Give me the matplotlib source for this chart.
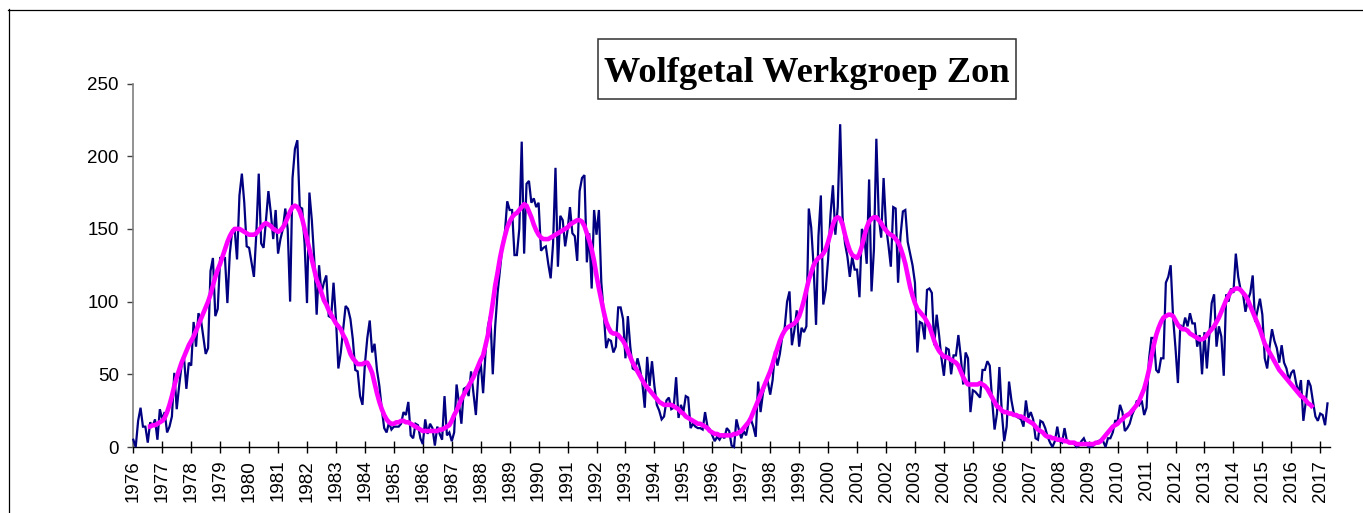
import numpy as np
import matplotlib
matplotlib.use("Agg")
import matplotlib.pyplot as plt
from matplotlib.lines import Line2D
from matplotlib.patches import Rectangle

# ---------------- data (monthly Wolf numbers, Jan 1976 .. Apr 2017) ----------------
monthly_1976_1985 = [
    5, 0, 18, 27, 14, 14, 3, 17, 14, 19, 5, 26,
    19, 24, 10, 14, 21, 51, 26, 42, 56, 62, 40, 58,
    56, 86, 69, 92, 88, 76, 64, 68, 121, 130, 90, 95,
    130, 130, 130, 99, 133, 149, 150, 129, 173, 188, 168, 138,
    137, 127, 117, 147, 188, 140, 137, 156, 176, 161, 143, 163,
    133, 143, 150, 164, 150, 100, 185, 205, 211, 165, 164, 140,
    99, 175, 156, 129, 91, 125, 106, 113, 118, 90, 89, 113,
    88, 54, 65, 81, 97, 95, 88, 74, 53, 52, 35, 29,
    57, 75, 87, 65, 71, 53, 42, 26, 13, 10, 17, 12,
    14, 14, 14, 16, 24, 22, 31, 8, 6, 16, 15, 6,
]
monthly_1986_1995 = [
    2, 19, 9, 16, 13, 1, 14, 9, 5, 35, 8, 10,
    4, 10, 43, 30, 16, 40, 41, 35, 52, 37, 22, 49,
    58, 37, 65, 83, 91, 50, 83, 106, 122, 138, 147, 169,
    163, 163, 132, 132, 150, 210, 133, 181, 183, 168, 171, 165,
    168, 135, 137, 138, 126, 116, 140, 192, 124, 159, 156, 138,
    149, 165, 147, 145, 128, 176, 185, 187, 127, 147, 109, 163,
    146, 163, 113, 92, 68, 74, 73, 65, 69, 96, 96, 88,
    61, 90, 69, 54, 53, 61, 54, 44, 27, 62, 42, 59,
    42, 29, 25, 19, 21, 32, 34, 26, 27, 48, 20, 29,
    24, 35, 34, 13, 16, 14, 13, 13, 12, 24, 14, 12,
]
monthly_1996_2005 = [
    8, 4, 7, 5, 8, 6, 13, 11, 1, 0, 19, 12,
    6, 11, 8, 16, 19, 14, 7, 45, 24, 37, 44, 45,
    36, 46, 66, 56, 64, 76, 82, 100, 107, 70, 80, 94,
    69, 82, 79, 83, 164, 151, 124, 84, 145, 173, 98, 108,
    129, 160, 180, 146, 165, 222, 158, 140, 131, 117, 131, 122,
    122, 103, 150, 145, 126, 184, 107, 136, 212, 158, 144, 185,
    152, 139, 124, 165, 164, 113, 145, 162, 163, 141, 133, 125,
    113, 65, 86, 85, 74, 108, 109, 106, 70, 91, 77, 61,
    49, 68, 67, 50, 63, 63, 77, 62, 43, 65, 61, 24,
    39, 38, 36, 34, 53, 53, 59, 56, 32, 12, 23, 55,
]
monthly_2006_2017 = [
    24, 4, 14, 45, 32, 23, 21, 20, 19, 14, 32, 20,
    24, 19, 6, 5, 18, 17, 13, 7, 3, 0, 4, 14,
    4, 3, 13, 4, 3, 3, 2, 0, 1, 4, 6, 2,
    0, 0, 1, 3, 4, 5, 4, 0, 6, 6, 10, 18,
    18, 29, 24, 11, 13, 16, 22, 26, 32, 29, 32, 22,
    27, 60, 75, 75, 53, 51, 61, 61, 113, 117, 125, 89,
    68, 44, 84, 81, 89, 83, 92, 85, 85, 69, 77, 50,
    79, 54, 76, 99, 105, 69, 83, 76, 49, 105, 100, 109,
    106, 133, 117, 108, 105, 93, 101, 106, 118, 86, 94, 102,
    91, 61, 54, 69, 81, 73, 68, 58, 70, 58, 54, 46,
    51, 53, 44, 37, 46, 18, 31, 46, 42, 31, 21, 18,
    23, 22, 15, 30,
]

# smoothed values, Jul 1976 .. Oct 2016
smooth_1976_1985 = [
    14, 14, 15, 15, 16, 17,
    18, 20, 24, 29, 35, 42, 48, 53, 58, 62, 66, 70,
    73, 76, 80, 84, 88, 92, 96, 100, 105, 111, 117, 122,
    126, 131, 136, 141, 145, 148, 150, 150, 150, 149, 148, 147,
    146, 146, 146, 147, 149, 151, 153, 154, 153, 152, 150, 149,
    148, 149, 151, 154, 158, 162, 165, 166, 165, 162, 157, 150,
    143, 136, 129, 122, 115, 111, 106, 101, 98, 94, 91, 88,
    85, 83, 81, 77, 74, 69, 64, 61, 59, 57, 57, 57,
    58, 58, 55, 51, 44, 37, 31, 26, 22, 19, 17, 16,
    16, 17, 17, 18, 18, 17, 17, 16, 15, 14, 13, 12,
]
smooth_1986_1995 = [
    11, 11, 11, 11, 11, 11, 11, 12, 12, 13, 14, 15,
    18, 22, 25, 29, 33, 36, 39, 42, 45, 48, 52, 56,
    60, 63, 70, 77, 88, 99, 111, 120, 130, 138, 145, 151,
    155, 158, 160, 161, 163, 165, 167, 166, 162, 158, 153, 149,
    146, 144, 143, 143, 143, 144, 145, 146, 147, 148, 149, 150,
    151, 153, 154, 155, 156, 156, 155, 152, 147, 142, 136, 128,
    118, 109, 101, 93, 86, 82, 79, 78, 78, 77, 75, 73,
    70, 66, 62, 58, 55, 52, 49, 46, 43, 41, 39, 37,
    35, 33, 31, 30, 29, 29, 29, 29, 28, 27, 26, 24,
    23, 21, 20, 19, 18, 17, 16, 16, 15, 14, 13, 11,
]
smooth_1996_2005 = [
    10, 9, 9, 8, 8, 8, 8, 8, 8, 9, 9, 10,
    11, 13, 15, 17, 20, 24, 28, 32, 36, 40, 44, 48,
    52, 57, 63, 68, 73, 77, 80, 82, 83, 84, 85, 87,
    90, 95, 101, 108, 115, 120, 125, 128, 130, 131, 133, 136,
    141, 147, 153, 157, 158, 157, 153, 146, 140, 135, 132, 131,
    130, 133, 138, 145, 151, 155, 157, 158, 158, 156, 154, 151,
    149, 147, 146, 145, 143, 141, 137, 132, 126, 118, 110, 104,
    99, 95, 93, 91, 89, 86, 83, 78, 73, 69, 66, 64,
    62, 62, 61, 60, 59, 58, 56, 52, 48, 45, 43, 43,
    43, 43, 43, 44, 43, 42, 40, 37, 34, 31, 28, 27,
]
smooth_2006_2016 = [
    25, 24, 24, 23, 23, 22, 22, 21, 21, 20, 19, 18,
    17, 16, 14, 12, 11, 10, 8, 7, 7, 6, 6, 5,
    5, 5, 4, 4, 3, 3, 3, 2, 2, 2, 2, 2,
    2, 2, 2, 3, 3, 4, 6, 8, 10, 12, 14, 15,
    16, 18, 19, 21, 22, 23, 25, 27, 29, 32, 36, 40,
    46, 53, 62, 70, 77, 82, 86, 89, 90, 91, 91, 90,
    87, 84, 82, 81, 81, 80, 78, 77, 76, 75, 74, 74,
    75, 77, 79, 81, 83, 86, 89, 93, 97, 101, 104, 107,
    108, 109, 109, 108, 106, 104, 101, 97, 93, 89, 85, 81,
    76, 71, 68, 65, 62, 59, 56, 53, 51, 49, 47, 45,
    43, 41, 39, 37, 35, 34, 32, 30, 29, 27,
]

start_year = 1976
smooth_offset_months = 6
year_ticks = [1976, 1977, 1978, 1979, 1980, 1981, 1982, 1983, 1984, 1985,
              1986, 1987, 1988, 1989, 1990, 1991, 1992, 1993, 1994, 1995,
              1996, 1997, 1998, 1999, 2000, 2001, 2002, 2003, 2004, 2005,
              2006, 2007, 2008, 2009, 2010, 2011, 2012, 2013, 2014, 2015,
              2016, 2017]
y_ticks = [0, 50, 100, 150, 200, 250]
title_text = "Wolfgetal Werkgroep Zon"

monthly = np.array(monthly_1976_1985 + monthly_1986_1995 + monthly_1996_2005 + monthly_2006_2017, float)
smooth = np.array(smooth_1976_1985 + smooth_1986_1995 + smooth_1996_2005 + smooth_2006_2016, float)
x_monthly = start_year + np.arange(len(monthly)) / 12.0
x_smooth = start_year + (smooth_offset_months + np.arange(len(smooth))) / 12.0

# ---------------- figure ----------------
W, H = 1363, 513
fig = plt.figure(figsize=(W / 100, H / 100), dpi=100)
fig.patch.set_facecolor("white")

ax_left, ax_right, ax_top, ax_bottom = 133.3, 1330.0, 83.5, 447.0
ax = fig.add_axes([ax_left / W, 1 - ax_bottom / H, (ax_right - ax_left) / W, (ax_bottom - ax_top) / H])
ax.set_facecolor("none")

ax.plot(x_monthly, monthly, color="#000080", lw=1.6, solid_joinstyle="miter", zorder=3, clip_on=False)
ax.plot(x_smooth, smooth, color="#FF00FF", lw=3.3, solid_capstyle="butt", zorder=4, clip_on=False)

ax.set_xlim(1976, 1976 + (ax_right - ax_left) / 28.95)
ax.set_ylim(0, 250)

for s in ("top", "right"):
    ax.spines[s].set_visible(False)
ax.spines["left"].set_color("#808080")
ax.spines["left"].set_linewidth(1.2)
ax.spines["bottom"].set_color("black")
ax.spines["bottom"].set_linewidth(1.0)

ax.set_yticks(y_ticks)
ax.set_yticklabels([str(v) for v in y_ticks])
ax.set_xticks(year_ticks)
ax.set_xticklabels([str(v) for v in year_ticks], rotation=90)

for lab in ax.get_xticklabels() + ax.get_yticklabels():
    lab.set_fontfamily("Liberation Sans")
    lab.set_fontsize(13.5)
    lab.set_color("black")

ax.tick_params(axis="y", direction="out", length=4.5, width=1.0, color="#404040", pad=6)
ax.tick_params(axis="x", direction="inout", length=8.5, width=1.0, color="black", pad=5)

# outer chart border (cut off at right and bottom)
fig.add_artist(Line2D([8.5 / W, 8.5 / W], [0, 1 - 9 / H], color="black", lw=0.9, transform=fig.transFigure))
fig.add_artist(Line2D([8 / W, 1], [1 - 9.5 / H, 1 - 9.5 / H], color="black", lw=0.9, transform=fig.transFigure))

# title box
bx0, bx1, by0, by1 = 598, 1016, 39, 99
fig.add_artist(Rectangle((bx0 / W, 1 - by1 / H), (bx1 - bx0) / W, (by1 - by0) / H,
                         transform=fig.transFigure, facecolor="white", edgecolor="#303030", lw=1.1, zorder=5))
t = fig.text(807 / W, 1 - 81.7 / H, title_text, ha="center", va="baseline",
             family="Liberation Serif", weight="bold", fontsize=26, color="black", zorder=6)
fig.canvas.draw()
bb = t.get_window_extent()
target_w = 406.0
t.set_fontsize(26 * target_w / bb.width)

fig.savefig("out.png", dpi=100, facecolor="white")
